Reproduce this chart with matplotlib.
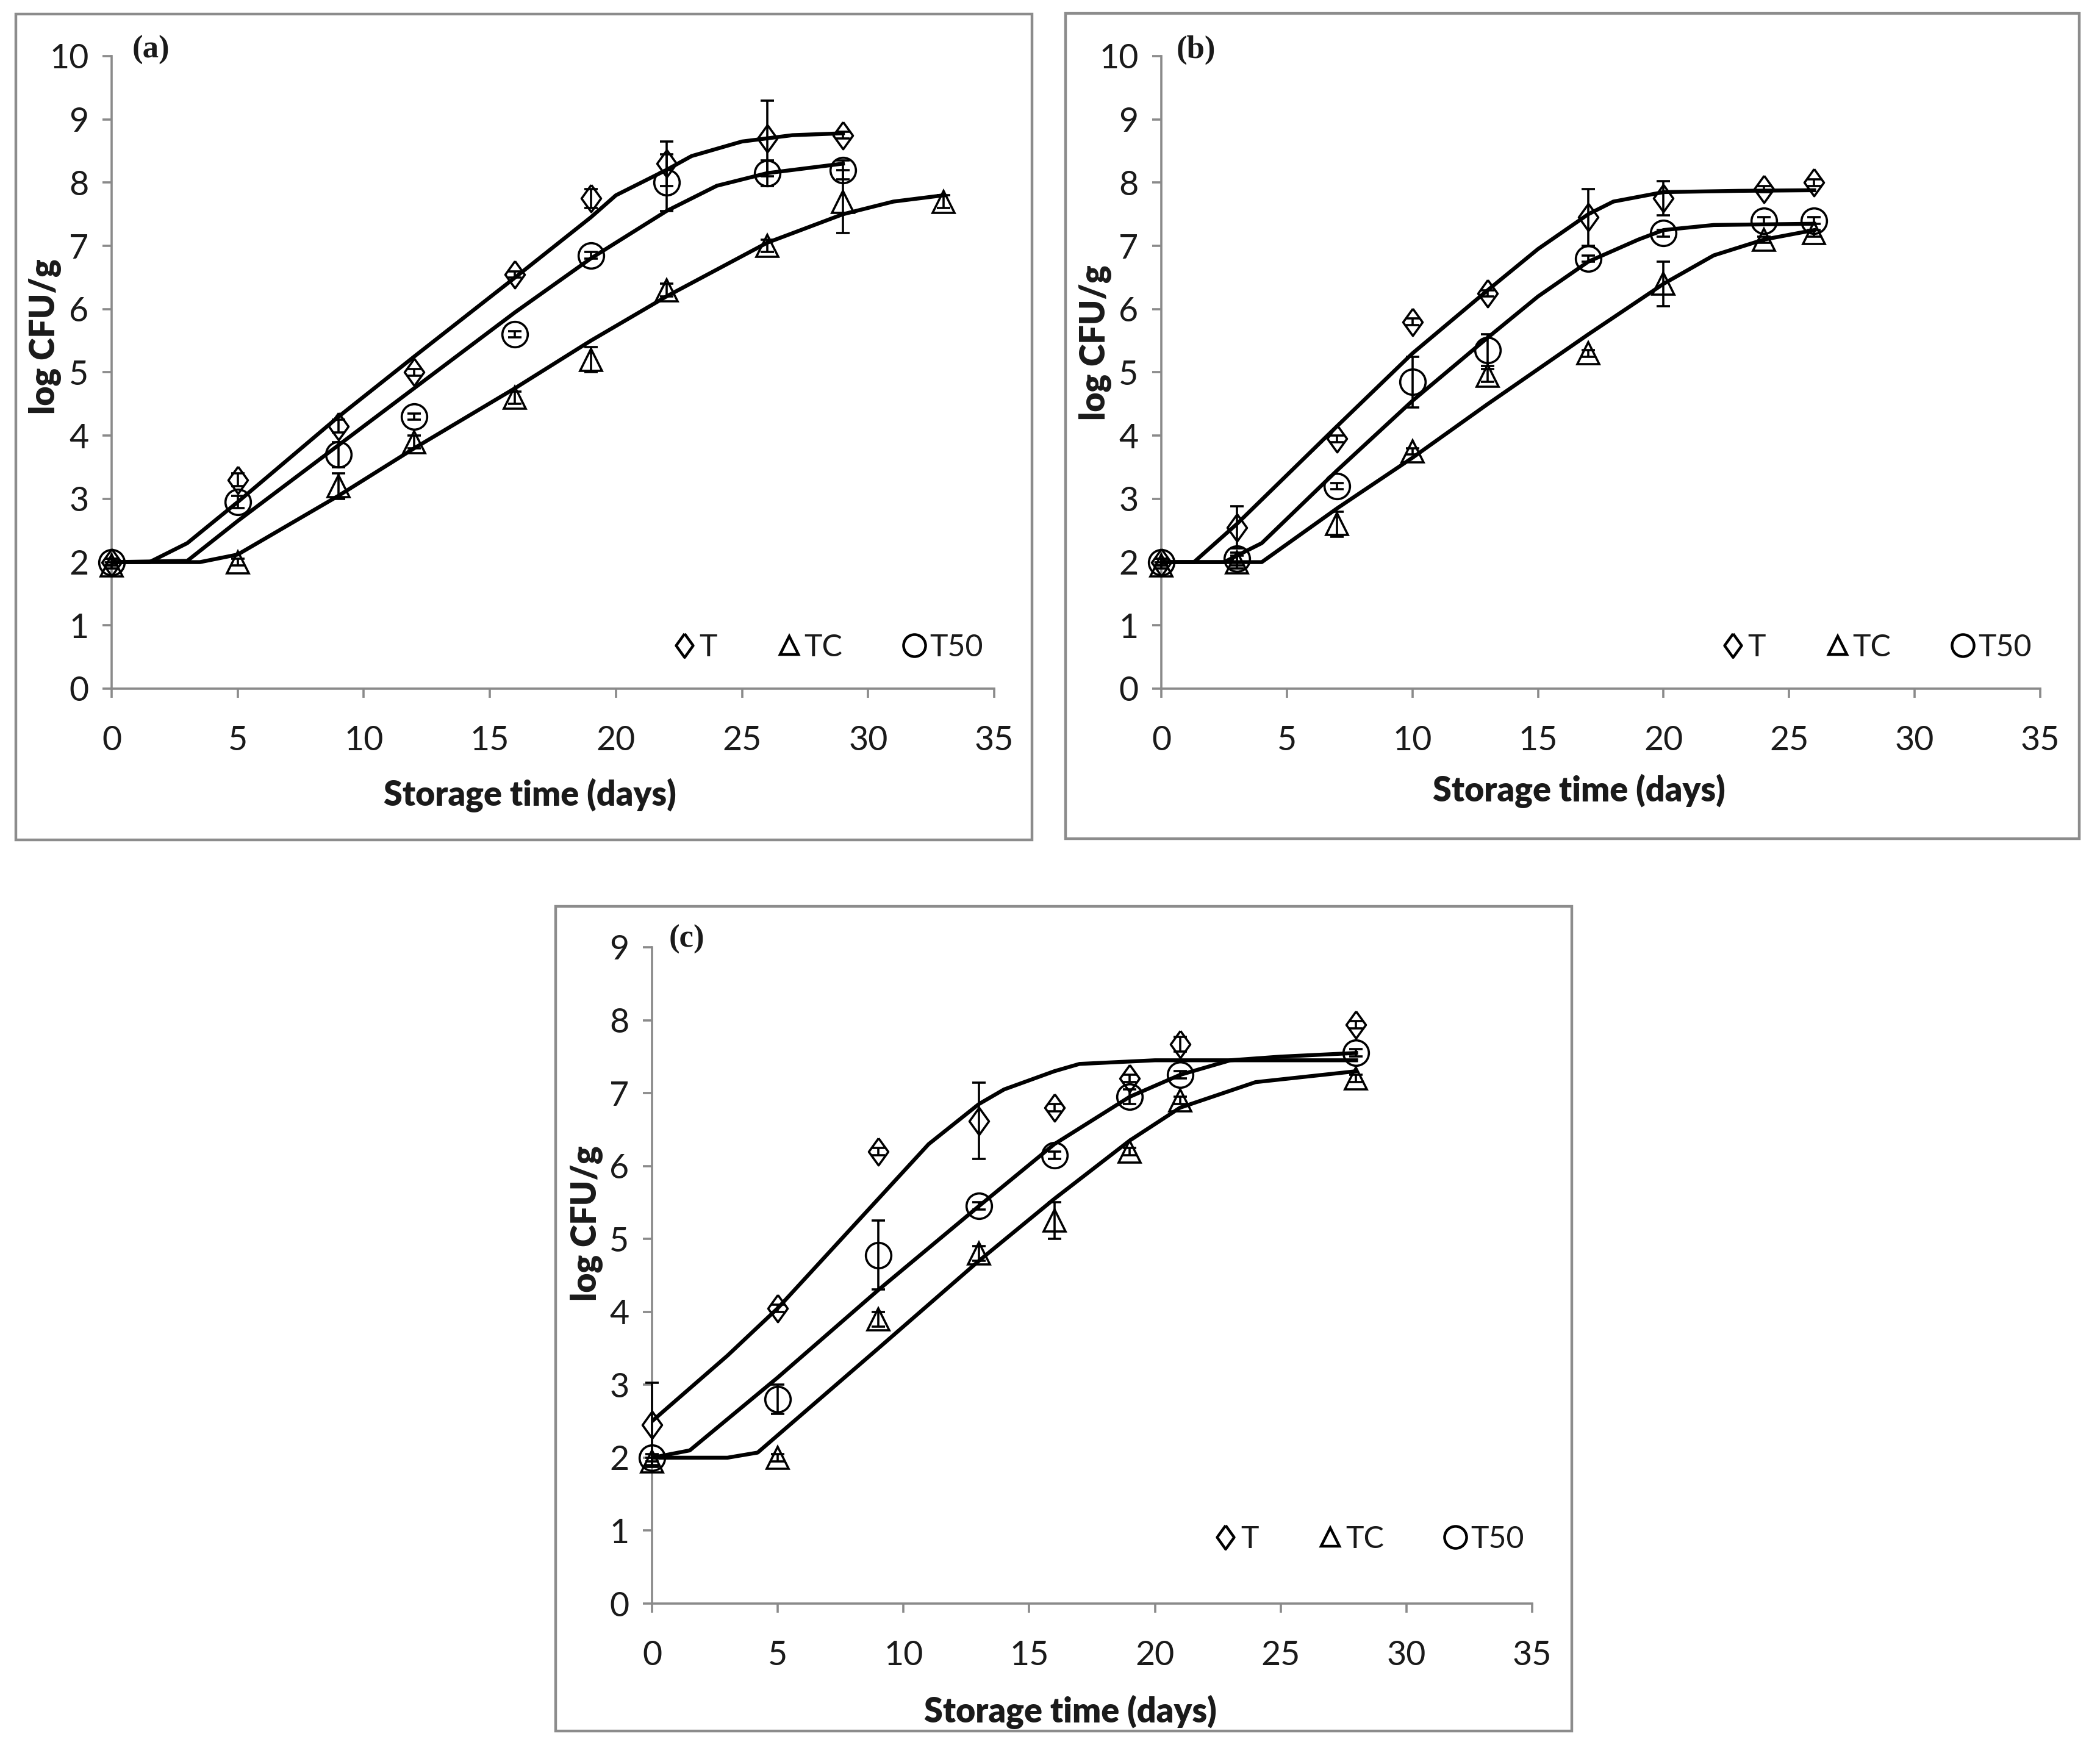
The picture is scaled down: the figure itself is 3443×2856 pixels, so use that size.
import matplotlib
matplotlib.use("Agg")
import matplotlib.pyplot as plt
from matplotlib.patches import Rectangle
from matplotlib.lines import Line2D

# ---------------- data ----------------
# Panel (a)
a_T_days = [0, 5, 9, 12, 16, 19, 22, 26, 29]
a_T = [2.0, 3.3, 4.15, 5.0, 6.55, 7.75, 8.3, 8.7, 8.75]
a_T_err = [0.05, 0.1, 0.1, 0.05, 0.05, 0.15, 0.35, 0.6, 0.05]
a_TC_days = [0, 5, 9, 12, 16, 19, 22, 26, 29, 33]
a_TC = [1.95, 2.0, 3.2, 3.9, 4.6, 5.2, 6.3, 7.0, 7.7, 7.7]
a_TC_err = [0.05, 0.05, 0.2, 0.1, 0.1, 0.2, 0.1, 0.1, 0.5, 0.1]
a_T50_days = [0, 5, 9, 12, 16, 19, 22, 26, 29]
a_T50 = [2.0, 2.95, 3.7, 4.3, 5.6, 6.85, 8.0, 8.15, 8.2]
a_T50_err = [0.05, 0.1, 0.2, 0.05, 0.05, 0.05, 0.45, 0.2, 0.15]
# fitted curves (a)
a_T_fit_x = [0, 1.5, 3, 5, 9, 12, 16, 19, 20, 22, 23, 25, 27, 29]
a_T_fit_y = [2.0, 2.0, 2.3, 2.95, 4.3, 5.25, 6.5, 7.45, 7.8, 8.2, 8.42, 8.65, 8.75, 8.78]
a_T50_fit_x = [0, 3, 5, 9, 12, 16, 19, 22, 24, 26, 29]
a_T50_fit_y = [2.0, 2.02, 2.65, 3.85, 4.75, 5.95, 6.8, 7.55, 7.95, 8.15, 8.3]
a_TC_fit_x = [0, 3.5, 5, 9, 12, 16, 19, 22, 26, 29, 31, 33]
a_TC_fit_y = [2.0, 2.0, 2.12, 3.05, 3.8, 4.75, 5.5, 6.2, 7.05, 7.5, 7.7, 7.8]

# Panel (b)
b_days = [0, 3, 7, 10, 13, 17, 20, 24, 26]
b_T = [2.0, 2.55, 3.95, 5.8, 6.25, 7.45, 7.75, 7.9, 8.0]
b_T_err = [0.05, 0.33, 0.05, 0.05, 0.05, 0.45, 0.27, 0.05, 0.05]
b_TC = [1.95, 2.0, 2.6, 3.75, 4.95, 5.3, 6.4, 7.1, 7.2]
b_TC_err = [0.05, 0.1, 0.2, 0.05, 0.1, 0.05, 0.35, 0.05, 0.05]
b_T50 = [2.0, 2.05, 3.2, 4.85, 5.35, 6.8, 7.2, 7.4, 7.4]
b_T50_err = [0.05, 0.1, 0.05, 0.4, 0.25, 0.05, 0.05, 0.05, 0.05]
# fitted curves (b)
b_T_fit_x = [0, 1.3, 3, 7, 10, 13, 15, 17, 18, 20, 23, 26]
b_T_fit_y = [2.0, 2.0, 2.6, 4.15, 5.3, 6.3, 6.95, 7.5, 7.7, 7.85, 7.87, 7.88]
b_T50_fit_x = [0, 2.5, 4, 7, 10, 13, 15, 17, 19, 20, 22, 26]
b_T50_fit_y = [2.0, 2.0, 2.3, 3.45, 4.55, 5.55, 6.2, 6.75, 7.1, 7.25, 7.33, 7.35]
b_TC_fit_x = [0, 4, 7, 10, 13, 17, 20, 22, 24, 26]
b_TC_fit_y = [2.0, 2.0, 2.85, 3.65, 4.5, 5.6, 6.4, 6.85, 7.1, 7.25]

# Panel (c)
c_days = [0, 5, 9, 13, 16, 19, 21, 28]
c_T = [2.45, 4.05, 6.2, 6.62, 6.8, 7.2, 7.67, 7.94]
c_T_err = [0.58, 0.05, 0.05, 0.52, 0.05, 0.05, 0.1, 0.05]
c_TC = [1.95, 2.0, 3.9, 4.8, 5.25, 6.2, 6.9, 7.2]
c_TC_err = [0.05, 0.05, 0.1, 0.1, 0.25, 0.05, 0.05, 0.05]
c_T50 = [2.0, 2.8, 4.78, 5.45, 6.15, 6.95, 7.25, 7.55]
c_T50_err = [0.05, 0.2, 0.47, 0.05, 0.05, 0.1, 0.05, 0.05]
# fitted curves (c)
c_T_fit_x = [0, 3, 5, 9, 11, 13, 14, 16, 17, 20, 28]
c_T_fit_y = [2.5, 3.4, 4.05, 5.55, 6.3, 6.85, 7.05, 7.3, 7.4, 7.45, 7.45]
c_T50_fit_x = [0, 1.5, 5, 9, 13, 16, 19, 21, 23, 25, 28]
c_T50_fit_y = [2.0, 2.1, 3.1, 4.3, 5.45, 6.3, 6.95, 7.25, 7.45, 7.5, 7.55]
c_TC_fit_x = [0, 3, 4.2, 9, 13, 16, 19, 21, 24, 28]
c_TC_fit_y = [2.0, 2.0, 2.07, 3.5, 4.7, 5.55, 6.35, 6.8, 7.15, 7.3]

series_labels = ["T", "TC", "T50"]
x_ticks = [0, 5, 10, 15, 20, 25, 30, 35]

# ---------------- style ----------------
W, H = 3443, 2856
DPI = 200
plt.rcParams["font.family"] = ["Lato", "DejaVu Sans"]
SPINE = "#8a8a8a"
TXT = "#1a1a1a"

fig = plt.figure(figsize=(W / DPI, H / DPI), dpi=DPI)
fig.patch.set_facecolor("white")


def px_rect(x0, y0, x1, y1):
    return [x0 / W, 1 - y1 / H, (x1 - x0) / W, (y1 - y0) / H]


# frames
for (x0, y0, x1, y1) in [(26, 23, 1692, 1377), (1747, 22, 3409, 1375), (911, 1486, 2577, 2838)]:
    fig.add_artist(Rectangle((x0 / W, 1 - y1 / H), (x1 - x0) / W, (y1 - y0) / H,
                             transform=fig.transFigure, fill=False,
                             edgecolor="#8c8c8c", linewidth=1.6))

diamond = [(0, 1), (0.72, 0), (0, -1), (-0.72, 0), (0, 1)]
markers = {"T": diamond, "TC": "^", "T50": "o"}
msizes = {"T": 16, "TC": 13, "T50": 15}


def panel(rect, ymax, label, pts, fits, ylab_xy, xlab_xy, lab_xy, leg_xy):
    ax = fig.add_axes(rect)
    for side in ["top", "right"]:
        ax.spines[side].set_visible(False)
    for side in ["left", "bottom"]:
        ax.spines[side].set_color(SPINE)
        ax.spines[side].set_linewidth(1.3)
    ax.set_xlim(0, 35)
    ax.set_ylim(0, ymax)
    ax.set_xticks(x_ticks)
    ax.set_yticks(list(range(0, ymax + 1)))
    ax.tick_params(axis="both", direction="out", length=5.5, width=1.3,
                   color=SPINE, labelsize=20, labelcolor=TXT)
    ax.tick_params(axis="x", pad=16)
    ax.tick_params(axis="y", pad=8)

    for (fx, fy) in fits:
        ax.plot(fx, fy, color="black", lw=2.3, solid_joinstyle="round", zorder=2)

    handles = []
    for name, (dx, dy, de) in zip(series_labels, pts):
        ax.errorbar(dx, dy, yerr=de, fmt="none", ecolor="black", elinewidth=1.3,
                    capsize=4, capthick=1.3, zorder=3, clip_on=False)
        ax.plot(dx, dy, linestyle="none", marker=markers[name], ms=msizes[name],
                mfc="none", mec="black", mew=1.3, zorder=4, clip_on=False)
        handles.append(Line2D([], [], linestyle="none", marker=markers[name],
                              ms=msizes[name] - 2, mfc="none", mec="black", mew=1.6))

    ax.text(ylab_xy[0], ylab_xy[1], "log CFU/g", transform=ax.transAxes,
            rotation=90, ha="center", va="center", fontsize=20,
            fontweight="heavy", color=TXT)
    ax.text(xlab_xy[0], xlab_xy[1], "Storage time (days)", transform=ax.transAxes,
            ha="center", va="center", fontsize=20, fontweight="heavy", color=TXT)
    ax.text(lab_xy[0], lab_xy[1], label, transform=ax.transAxes, ha="left",
            va="center", fontsize=19, fontweight="bold",
            family=["Liberation Serif", "DejaVu Serif"], color=TXT)
    leg = ax.legend(handles, series_labels, ncol=3, frameon=False, loc="center",
                    bbox_to_anchor=leg_xy, fontsize=18, handlelength=0.7,
                    handletextpad=0.15, columnspacing=2.0, borderpad=0)
    for t in leg.get_texts():
        t.set_color(TXT)
    return ax


panel(px_rect(183, 92, 1630, 1129), 10, "(a)",
      [(a_T_days, a_T, a_T_err), (a_TC_days, a_TC, a_TC_err), (a_T50_days, a_T50, a_T50_err)],
      [(a_T_fit_x, a_T_fit_y), (a_T50_fit_x, a_T50_fit_y), (a_TC_fit_x, a_TC_fit_y)],
      (-0.075, 0.557), (0.474, -0.169), (0.023, 1.01), (0.812, 0.065))

panel(px_rect(1904, 92, 3345, 1129), 10, "(b)",
      [(b_days, b_T, b_T_err), (b_days, b_TC, b_TC_err), (b_days, b_T50, b_T50_err)],
      [(b_T_fit_x, b_T_fit_y), (b_T50_fit_x, b_T50_fit_y), (b_TC_fit_x, b_TC_fit_y)],
      (-0.075, 0.547), (0.475, -0.162), (0.017, 1.01), (0.814, 0.065))

panel(px_rect(1069, 1553, 2512, 2629), 9, "(c)",
      [(c_days, c_T, c_T_err), (c_days, c_TC, c_TC_err), (c_days, c_T50, c_T50_err)],
      [(c_T_fit_x, c_T_fit_y), (c_T50_fit_x, c_T50_fit_y), (c_TC_fit_x, c_TC_fit_y)],
      (-0.074, 0.579), (0.475, -0.165), (0.019, 1.012), (0.815, 0.098))

fig.savefig("out.png", dpi=DPI, facecolor="white")
